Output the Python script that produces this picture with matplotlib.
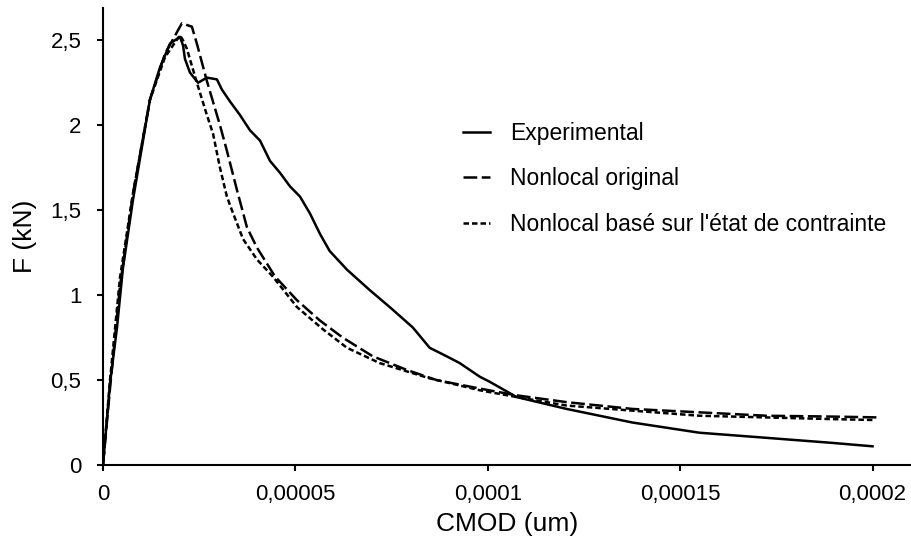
import numpy as np
import matplotlib
matplotlib.use("Agg")
import matplotlib.pyplot as plt

plt.rcParams['font.family'] = ['Liberation Sans', 'DejaVu Sans']

# CMOD in 1e-6 units, F in kN
exp_cmod = [0.0, 1.82, 3.64, 5.19, 7.79, 12.2, 14.8, 17.4, 20.0, 20.8, 21.3, 22.6, 24.7,
            27.0, 29.6, 30.9, 33.0, 35.6, 38.2, 40.8, 43.4, 46.0, 48.6, 51.2, 53.8, 56.4,
            58.9, 63.4, 69.3, 74.5, 80.5, 84.9, 89.3, 92.7, 97.9, 100.5, 107.5, 120.5,
            137.6, 155.0, 172.4, 189.6, 200.0]
exp_f = [0.0, 0.48, 0.81, 1.16, 1.56, 2.15, 2.34, 2.48, 2.52, 2.47, 2.39, 2.31, 2.25,
         2.28, 2.27, 2.21, 2.14, 2.06, 1.97, 1.91, 1.79, 1.72, 1.64, 1.58, 1.48, 1.36,
         1.26, 1.15, 1.03, 0.93, 0.81, 0.69, 0.64, 0.60, 0.52, 0.49, 0.40, 0.33,
         0.25, 0.19, 0.16, 0.13, 0.11]

orig_cmod = [0.0, 1.82, 4.4, 7.8, 12.2, 16.1, 20.5, 23.1, 24.4, 27.0, 30.4, 32.2, 34.8,
             37.4, 40.0, 44.7, 50.4, 56.4, 62.3, 70.1, 78.9, 86.7, 97.9, 107.5, 120.5,
             137.6, 155.0, 172.4, 189.6, 201.8]
orig_f = [0.0, 0.45, 1.05, 1.6, 2.15, 2.42, 2.60, 2.58, 2.48, 2.26, 2.0, 1.85, 1.62,
          1.40, 1.28, 1.11, 0.97, 0.85, 0.75, 0.64, 0.56, 0.50, 0.45, 0.41, 0.37,
          0.33, 0.31, 0.29, 0.285, 0.28]

base_cmod = [0.0, 1.82, 4.4, 7.8, 12.2, 16.1, 20.0, 20.8, 21.8, 24.4, 27.0, 28.6, 30.4,
             32.2, 33.5, 36.4, 40.0, 44.1, 50.4, 57.1, 63.4, 71.9, 84.9, 97.9, 107.5,
             120.5, 137.6, 155.0, 172.4, 189.6, 200.0]
base_f = [0.0, 0.5, 1.1, 1.6, 2.15, 2.40, 2.53, 2.50, 2.45, 2.25, 2.06, 1.95, 1.75,
          1.58, 1.50, 1.33, 1.21, 1.11, 0.93, 0.80, 0.69, 0.60, 0.51, 0.44, 0.40,
          0.35, 0.32, 0.29, 0.28, 0.27, 0.265]

xticks = [0, 0.00005, 0.0001, 0.00015, 0.0002]
xticklabels = ["0", "0,00005", "0,0001", "0,00015", "0,0002"]
yticks = [0, 0.5, 1, 1.5, 2, 2.5]
yticklabels = ["0", "0,5", "1", "1,5", "2", "2,5"]

W, H = 911, 545
fig = plt.figure(figsize=(W / 100, H / 100), dpi=100)
ax = fig.add_axes([103 / W, 80 / H, 808 / W, 457 / H])

lw = 1.8
ax.plot(np.array(exp_cmod) * 1e-6, exp_f, color='black', lw=lw, label='Experimental')
ax.plot(np.array(orig_cmod) * 1e-6, orig_f, color='black', lw=lw, dashes=(5.5, 1.8),
        label='Nonlocal original')
ax.plot(np.array(base_cmod) * 1e-6, base_f, color='black', lw=lw, dashes=(2.2, 1.2),
        label="Nonlocal basé sur l'état de contrainte")

ax.set_xlim(0, 0.00021)
ax.set_ylim(0, 2.69)
ax.set_xticks(xticks)
ax.set_xticklabels(xticklabels)
ax.set_yticks(yticks)
ax.set_yticklabels(yticklabels)
ax.tick_params(direction='out', length=4.5, width=1.5, labelsize=16)
ax.tick_params(axis='x', pad=9)
ax.tick_params(axis='y', pad=11)

for s in ['top', 'right']:
    ax.spines[s].set_visible(False)
for s in ['left', 'bottom']:
    ax.spines[s].set_linewidth(1.5)

ax.set_xlabel('CMOD (um)', fontsize=19, labelpad=5)
ax.set_ylabel('F (kN)', fontsize=19, labelpad=10)

leg = ax.legend(loc='upper left', bbox_to_anchor=((442 - 103) / 808, (465 - 101) / 457),
                frameon=False, fontsize=16.5, handlelength=1.2, handletextpad=0.88,
                labelspacing=0.98)

fig.savefig('out.png', dpi=100)
